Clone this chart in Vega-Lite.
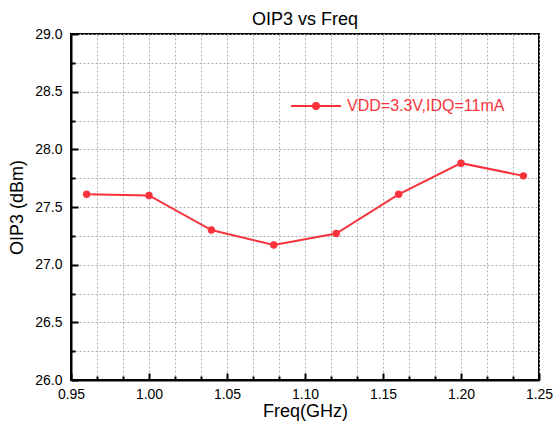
{
  "$schema": "https://vega.github.io/schema/vega-lite/v6.json",
  "width": 468,
  "height": 346,
  "autosize": "none",
  "padding": {"left": 71, "top": 34, "right": 17, "bottom": 43},
  "background": "white",
  "title": {"text": "OIP3 vs Freq", "fontSize": 18, "font": "Liberation Sans", "fontWeight": "normal", "color": "black", "offset": -2, "anchor": "middle"},
  "config": {
    "view": {"stroke": "black", "strokeWidth": 2},
    "font": "Liberation Sans"
  },
  "data": {"values": [
    {"freq": 0.96, "oip3": 27.61, "series": "VDD=3.3V,IDQ=11mA"},
    {"freq": 1.00, "oip3": 27.60, "series": "VDD=3.3V,IDQ=11mA"},
    {"freq": 1.04, "oip3": 27.30, "series": "VDD=3.3V,IDQ=11mA"},
    {"freq": 1.08, "oip3": 27.17, "series": "VDD=3.3V,IDQ=11mA"},
    {"freq": 1.12, "oip3": 27.27, "series": "VDD=3.3V,IDQ=11mA"},
    {"freq": 1.16, "oip3": 27.61, "series": "VDD=3.3V,IDQ=11mA"},
    {"freq": 1.20, "oip3": 27.88, "series": "VDD=3.3V,IDQ=11mA"},
    {"freq": 1.24, "oip3": 27.77, "series": "VDD=3.3V,IDQ=11mA"}
  ]},
  "encoding": {
    "color": {"field": "series", "type": "nominal", "scale": {"range": ["#f8333c"]},
      "legend": {"orient": "none", "legendX": 219, "legendY": 46, "title": null,
        "symbolType": "M-1,0H1M0.12,0A0.12,0.12 0 1,1 -0.12,0A0.12,0.12 0 1,1 0.12,0Z",
        "symbolSize": 2500, "symbolStrokeWidth": 2, "symbolFillColor": "#f8333c",
        "labelColor": "#f8333c", "labelFontSize": 16, "labelOffset": 5}}
  },
  "layer": [
    {
      "mark": {"type": "point", "opacity": 0},
      "encoding": {
        "x": {"field": "freq", "type": "quantitative", "scale": {"domain": [0.95, 1.25], "nice": false, "zero": false},
          "axis": {
            "orient": "bottom",
            "title": "Freq(GHz)", "titleFontSize": 18, "titleFontWeight": "normal", "titleColor": "black", "titlePadding": 1,
            "values": [0.95,0.9666667,0.9833333,1.0,1.0166667,1.0333333,1.05,1.0666667,1.0833333,1.1,1.1166667,1.1333333,1.15,1.1666667,1.1833333,1.2,1.2166667,1.2333333,1.25],
            "labelExpr": "abs(round(datum.value*60) % 3) == 0 ? format(datum.value, '.2f') : ''",
            "labelFontSize": 14, "labelColor": "black", "labelPadding": 7, "labelFlush": false, "labelOverlap": false,
            "domainColor": "black", "domainWidth": 2,
            "ticks": false, "tickSize": 0,
            "grid": true, "gridColor": "#b0b0b0", "gridDash": [2, 2], "gridWidth": 1
          }},
        "y": {"field": "oip3", "type": "quantitative", "scale": {"domain": [26, 29], "nice": false, "zero": false},
          "axis": {
            "orient": "left",
            "title": "OIP3 (dBm)", "titleFontSize": 18, "titleFontWeight": "normal", "titleColor": "black", "titlePadding": 8,
            "values": [26,26.25,26.5,26.75,27,27.25,27.5,27.75,28,28.25,28.5,28.75,29],
            "labelExpr": "round(datum.value*4) % 2 == 0 ? format(datum.value, '.1f') : ''",
            "labelFontSize": 14, "labelColor": "black", "labelPadding": 9, "labelFlush": false, "labelOverlap": false,
            "domainColor": "black", "domainWidth": 2,
            "ticks": false, "tickSize": 0,
            "grid": true, "gridColor": "#b0b0b0", "gridDash": [2, 2], "gridWidth": 1
          }}
      }
    },
    {
      "mark": {"type": "line", "strokeWidth": 2},
      "encoding": {
        "x": {"field": "freq", "type": "quantitative", "scale": {"domain": [0.95, 1.25], "nice": false, "zero": false},
          "axis": {"orient": "bottom", "offset": -7, "zindex": 1, "title": null, "labels": false, "domain": false, "grid": false,
            "values": [0.95,1.0,1.05,1.1,1.15,1.2,1.25], "ticks": true, "tickSize": 7, "tickWidth": 2, "tickColor": "black"}},
        "y": {"field": "oip3", "type": "quantitative", "scale": {"domain": [26, 29], "nice": false, "zero": false},
          "axis": {"orient": "left", "offset": -7, "zindex": 1, "title": null, "labels": false, "domain": false, "grid": false,
            "values": [26,26.5,27,27.5,28,28.5,29], "ticks": true, "tickSize": 7, "tickWidth": 2, "tickColor": "black"}}
      }
    },
    {
      "mark": {"type": "point", "filled": true, "size": 55, "opacity": 1},
      "encoding": {
        "x": {"field": "freq", "type": "quantitative", "scale": {"domain": [0.95, 1.25], "nice": false, "zero": false},
          "axis": {"orient": "bottom", "offset": -4, "zindex": 1, "title": null, "labels": false, "domain": false, "grid": false,
            "values": [0.9666667,0.9833333,1.0166667,1.0333333,1.0666667,1.0833333,1.1166667,1.1333333,1.1666667,1.1833333,1.2166667,1.2333333], "ticks": true, "tickSize": 4, "tickWidth": 2, "tickColor": "black"}},
        "y": {"field": "oip3", "type": "quantitative", "scale": {"domain": [26, 29], "nice": false, "zero": false},
          "axis": {"orient": "left", "offset": -4, "zindex": 1, "title": null, "labels": false, "domain": false, "grid": false,
            "values": [26.25,26.75,27.25,27.75,28.25,28.75], "ticks": true, "tickSize": 4, "tickWidth": 2, "tickColor": "black"}}
      }
    }
  ],
  "resolve": {"axis": {"x": "independent", "y": "independent"}}
}
